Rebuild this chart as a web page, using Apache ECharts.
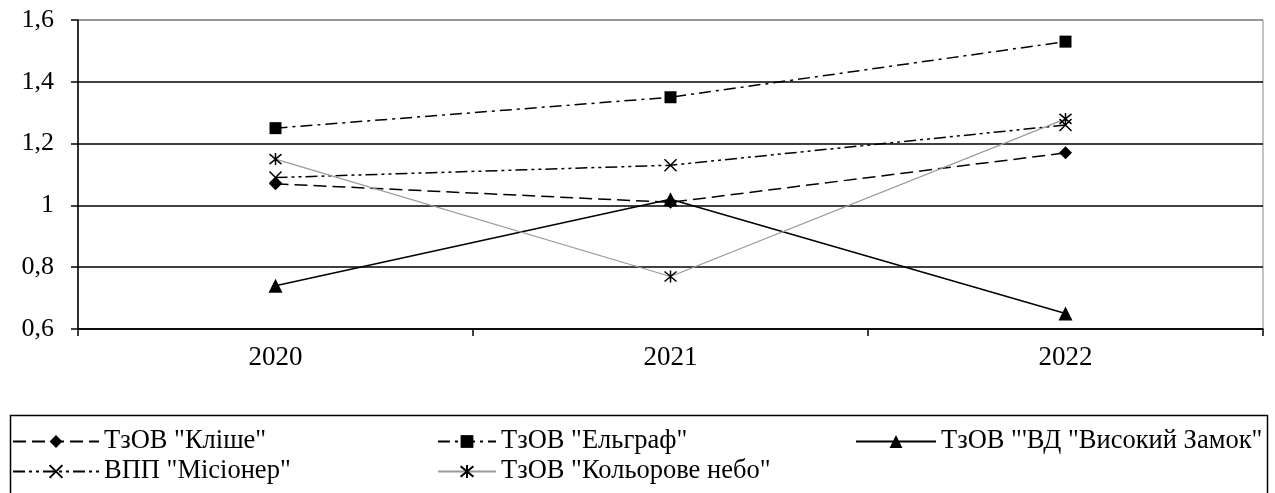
<!DOCTYPE html>
<html>
<head>
<meta charset="utf-8">
<script src="https://cdn.jsdelivr.net/npm/echarts@6/dist/echarts.min.js"></script>
<style>html,body{margin:0;padding:0;background:#fff;}#c{width:1275px;height:493px;}</style>
</head>
<body>
<div id="c"></div>
<script>
const years = ['2020', '2021', '2022'];
const yTicks = [0.6, 0.8, 1.0, 1.2, 1.4, 1.6];
const klishe = [1.07, 1.01, 1.17];
const elhraf = [1.25, 1.35, 1.53];
const zamok = [0.74, 1.02, 0.65];
const misioner = [1.09, 1.13, 1.26];
const nebo = [1.15, 0.77, 1.28];
const names = ['ТзОВ "Кліше"', 'ТзОВ "Ельграф"', 'ТзОВ "\'ВД "Високий Замок"', 'ВПП "Місіонер"', 'ТзОВ "Кольорове небо"'];

const FONT = 'Liberation Serif';
const xPath = 'path://M0,0L10,10M10,0L0,10';
const starPath = 'path://M0,0L10,10M10,0L0,10M5,-1L5,11';

const chart = echarts.init(document.getElementById('c'));
const legendBase = {
  orient: 'vertical', itemHeight: 16, itemGap: 3,
  textStyle: {fontFamily: FONT, fontSize: 26.5, color: '#000'},
  padding: 0, selectedMode: false
};
chart.setOption({
  animation: false,
  backgroundColor: '#fff',
  textStyle: {fontFamily: FONT},
  grid: {left: 78, right: 12, top: 20, bottom: 164, containLabel: false,
         show: true, borderColor: '#888', borderWidth: 1},
  xAxis: {
    type: 'category', data: years, boundaryGap: true,
    axisLine: {lineStyle: {color: '#000', width: 1.5}},
    axisTick: {show: true, inside: false, length: 7, interval: 0, lineStyle: {color: '#000', width: 1.5}},
    axisLabel: {fontFamily: FONT, fontSize: 27, color: '#000', margin: 15},
    splitLine: {show: false}
  },
  yAxis: {
    type: 'value', min: yTicks[0], max: yTicks[yTicks.length - 1], interval: 0.2,
    axisLine: {show: true, lineStyle: {color: '#000', width: 1.5}},
    axisTick: {show: true, inside: false, length: 7, lineStyle: {color: '#000', width: 1.5}},
    axisLabel: {fontFamily: FONT, fontSize: 26, color: '#000', margin: 24,
      formatter: v => (Math.abs(v - 1) < 1e-9 ? '1' : v.toFixed(1).replace('.', ','))},
    splitLine: {show: true, lineStyle: {color: ['#000', '#000', '#000', '#000', '#000', '#888'], width: 1.5}}
  },
  legend: [
    Object.assign({}, legendBase, {left: 12, top: 428, itemWidth: 86, data: [names[0], names[3]]}),
    Object.assign({}, legendBase, {left: 437, top: 428, itemWidth: 58, data: [names[1], names[4]]}),
    Object.assign({}, legendBase, {left: 855, top: 428, itemWidth: 80, data: [names[2]]})
  ],
  graphic: [{
    type: 'rect', left: 8, top: 413, silent: true,
    shape: {width: 1257, height: 100},
    style: {fill: 'none', stroke: '#000', lineWidth: 1.5}
  }],
  series: [
    {name: names[0], type: 'line', data: klishe, symbol: 'diamond', symbolSize: 13,
     lineStyle: {color: '#000', width: 1.5, type: [13, 6]}, itemStyle: {color: '#000'}, z: 3},
    {name: names[1], type: 'line', data: elhraf, symbol: 'rect', symbolSize: 12,
     lineStyle: {color: '#000', width: 1.5, type: [12, 5, 3, 5]}, itemStyle: {color: '#000'}, z: 3},
    {name: names[2], type: 'line', data: zamok, symbol: 'triangle', symbolSize: 14,
     lineStyle: {color: '#000', width: 1.5, type: 'solid'}, itemStyle: {color: '#000'}, z: 3},
    {name: names[3], type: 'line', data: misioner, symbol: xPath, symbolSize: 12,
     lineStyle: {color: '#000', width: 1.5, type: [12, 4, 3, 4, 3, 4]},
     itemStyle: {color: '#000', borderColor: '#000', borderWidth: 1.5}, z: 3},
    {name: names[4], type: 'line', data: nebo, symbol: starPath, symbolSize: 12,
     lineStyle: {color: '#999', width: 1.2, type: 'solid'},
     itemStyle: {color: '#000', borderColor: '#000', borderWidth: 1.5}, z: 3}
  ]
});
</script>
</body>
</html>
